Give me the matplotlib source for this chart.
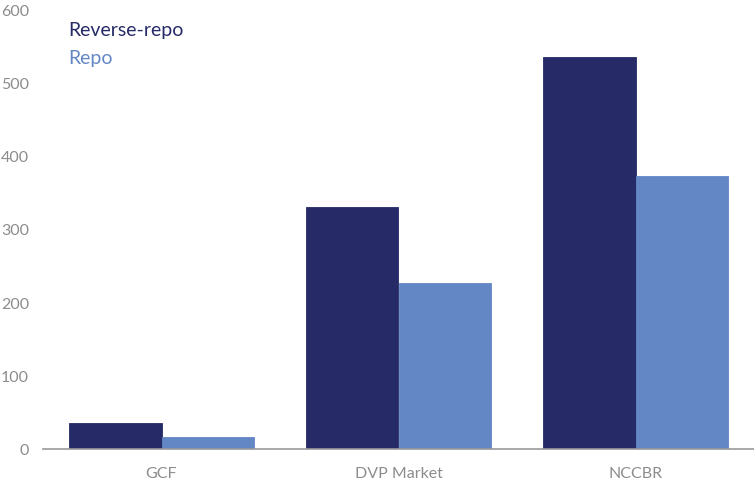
import matplotlib.pyplot as plt
import numpy as np

plt.rcParams['font.family'] = ['Lato', 'DejaVu Sans']

categories = ['GCF', 'DVP Market', 'NCCBR']
reverse_repo = [35, 330, 535]
repo = [17, 226, 372]
yticks = [0, 100, 200, 300, 400, 500, 600]

navy = '#262a66'
light = '#6287c4'
grey = '#8c8c8c'

fig = plt.figure(figsize=(7.54, 4.85), dpi=100)
ax = fig.add_axes([43 / 754, 35 / 485, 711 / 754, 440 / 485])

x = np.arange(len(categories))
w = 0.39
ax.bar(x - w / 2, reverse_repo, w, color=navy, edgecolor=navy, linewidth=0.6,
       label='Reverse-repo')
ax.bar(x + w / 2, repo, w, color=light, edgecolor=light, linewidth=0.6,
       label='Repo')

ax.set_xlim(-0.5, 2.5)
ax.set_ylim(0, 600)
ax.set_yticks(yticks)
ax.set_xticks(x)
ax.set_xticklabels(categories)
ax.tick_params(axis='both', length=0, colors=grey, labelsize=11.5)
ax.tick_params(axis='y', pad=10)
ax.tick_params(axis='x', pad=12)

for s in ['top', 'right', 'left']:
    ax.spines[s].set_visible(False)
ax.spines['bottom'].set_color('#999999')
ax.spines['bottom'].set_linewidth(1.2)
ax.spines['bottom'].set_zorder(3)

leg = ax.legend(handlelength=0, handletextpad=0, frameon=False,
                loc='upper left', bbox_to_anchor=(0.011, 1.012),
                fontsize=14, labelspacing=0.55,
                labelcolor=[navy, light])
for h in leg.legend_handles:
    h.set_visible(False)

fig.savefig('out.png', dpi=100)
